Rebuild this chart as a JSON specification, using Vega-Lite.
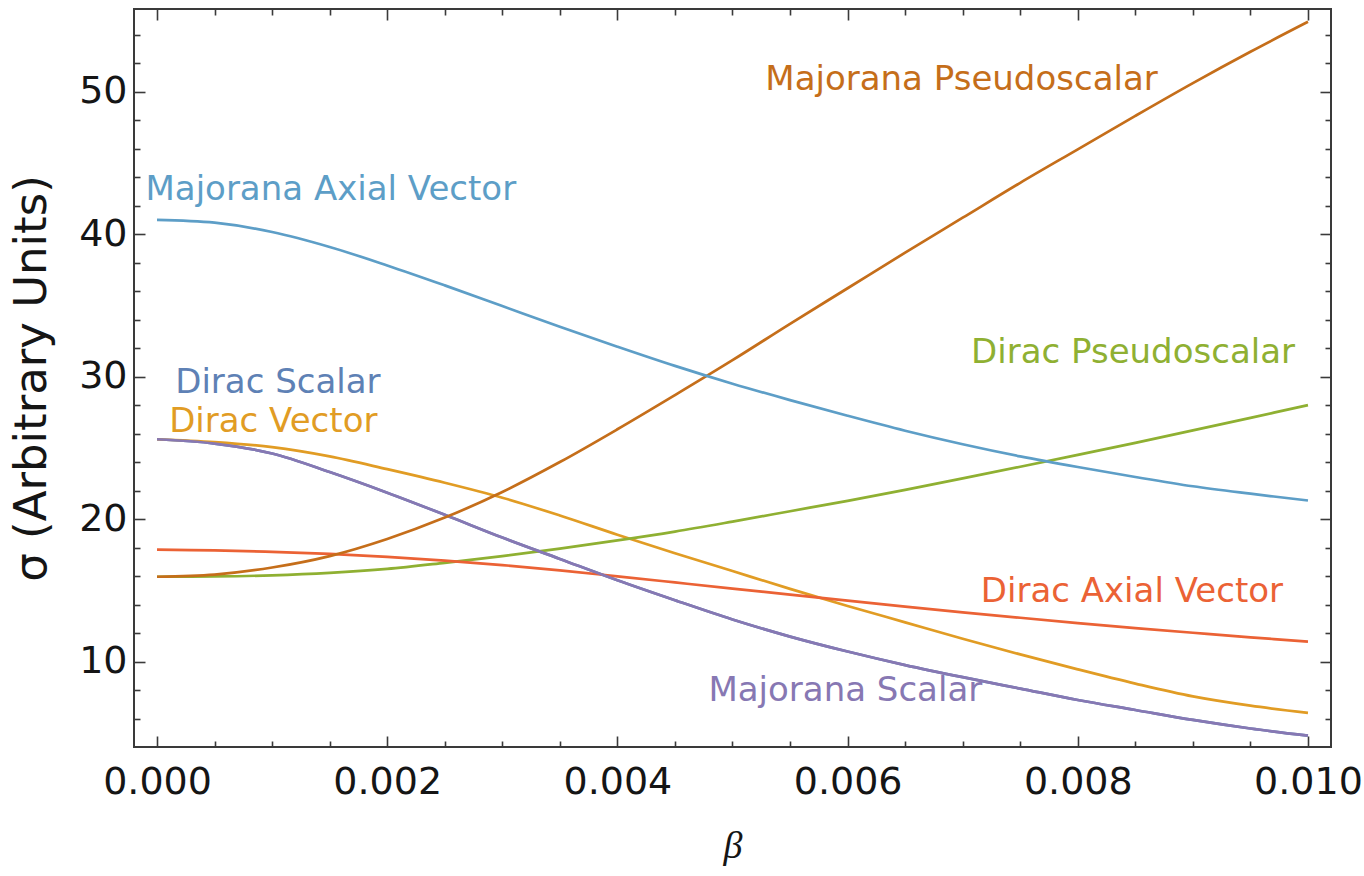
{
  "$schema": "https://vega.github.io/schema/vega-lite/v6.json",
  "width": 1197,
  "height": 738,
  "autosize": {"type": "none"},
  "padding": {"left": 134, "top": 9, "right": 33, "bottom": 129},
  "background": "white",
  "config": {
    "view": {"stroke": "#3a3a3a", "strokeWidth": 2},
    "axis": {"grid": false, "domain": false, "labelOverlap": false, "labelFlush": false, "labelBound": false}
  },
  "datasets": {
    "curves": [
      {"series": "Dirac Scalar", "beta": 0, "sigma": 25.6},
      {"series": "Dirac Scalar", "beta": 0.0005, "sigma": 25.3},
      {"series": "Dirac Scalar", "beta": 0.001, "sigma": 24.6},
      {"series": "Dirac Scalar", "beta": 0.0015, "sigma": 23.3},
      {"series": "Dirac Scalar", "beta": 0.002, "sigma": 21.85},
      {"series": "Dirac Scalar", "beta": 0.0025, "sigma": 20.3},
      {"series": "Dirac Scalar", "beta": 0.003, "sigma": 18.7},
      {"series": "Dirac Scalar", "beta": 0.0035, "sigma": 17.2},
      {"series": "Dirac Scalar", "beta": 0.004, "sigma": 15.7},
      {"series": "Dirac Scalar", "beta": 0.0045, "sigma": 14.3},
      {"series": "Dirac Scalar", "beta": 0.005, "sigma": 12.95},
      {"series": "Dirac Scalar", "beta": 0.0055, "sigma": 11.75},
      {"series": "Dirac Scalar", "beta": 0.006, "sigma": 10.7},
      {"series": "Dirac Scalar", "beta": 0.0065, "sigma": 9.75},
      {"series": "Dirac Scalar", "beta": 0.007, "sigma": 8.9},
      {"series": "Dirac Scalar", "beta": 0.0075, "sigma": 8.1},
      {"series": "Dirac Scalar", "beta": 0.008, "sigma": 7.3},
      {"series": "Dirac Scalar", "beta": 0.0085, "sigma": 6.6},
      {"series": "Dirac Scalar", "beta": 0.009, "sigma": 5.9},
      {"series": "Dirac Scalar", "beta": 0.0095, "sigma": 5.3},
      {"series": "Dirac Scalar", "beta": 0.01, "sigma": 4.8},

      {"series": "Dirac Vector", "beta": 0, "sigma": 25.6},
      {"series": "Dirac Vector", "beta": 0.0005, "sigma": 25.4},
      {"series": "Dirac Vector", "beta": 0.001, "sigma": 25.05},
      {"series": "Dirac Vector", "beta": 0.0015, "sigma": 24.4},
      {"series": "Dirac Vector", "beta": 0.002, "sigma": 23.5},
      {"series": "Dirac Vector", "beta": 0.0025, "sigma": 22.55},
      {"series": "Dirac Vector", "beta": 0.003, "sigma": 21.5},
      {"series": "Dirac Vector", "beta": 0.0035, "sigma": 20.25},
      {"series": "Dirac Vector", "beta": 0.004, "sigma": 18.9},
      {"series": "Dirac Vector", "beta": 0.0045, "sigma": 17.6},
      {"series": "Dirac Vector", "beta": 0.005, "sigma": 16.35},
      {"series": "Dirac Vector", "beta": 0.0055, "sigma": 15.1},
      {"series": "Dirac Vector", "beta": 0.006, "sigma": 13.9},
      {"series": "Dirac Vector", "beta": 0.0065, "sigma": 12.75},
      {"series": "Dirac Vector", "beta": 0.007, "sigma": 11.6},
      {"series": "Dirac Vector", "beta": 0.0075, "sigma": 10.5},
      {"series": "Dirac Vector", "beta": 0.008, "sigma": 9.45},
      {"series": "Dirac Vector", "beta": 0.0085, "sigma": 8.45},
      {"series": "Dirac Vector", "beta": 0.009, "sigma": 7.55},
      {"series": "Dirac Vector", "beta": 0.0095, "sigma": 6.9},
      {"series": "Dirac Vector", "beta": 0.01, "sigma": 6.4},

      {"series": "Dirac Pseudoscalar", "beta": 0, "sigma": 15.95},
      {"series": "Dirac Pseudoscalar", "beta": 0.0005, "sigma": 15.97},
      {"series": "Dirac Pseudoscalar", "beta": 0.001, "sigma": 16.05},
      {"series": "Dirac Pseudoscalar", "beta": 0.0015, "sigma": 16.22},
      {"series": "Dirac Pseudoscalar", "beta": 0.002, "sigma": 16.5},
      {"series": "Dirac Pseudoscalar", "beta": 0.0025, "sigma": 16.93},
      {"series": "Dirac Pseudoscalar", "beta": 0.003, "sigma": 17.4},
      {"series": "Dirac Pseudoscalar", "beta": 0.0035, "sigma": 17.93},
      {"series": "Dirac Pseudoscalar", "beta": 0.004, "sigma": 18.5},
      {"series": "Dirac Pseudoscalar", "beta": 0.0045, "sigma": 19.12},
      {"series": "Dirac Pseudoscalar", "beta": 0.005, "sigma": 19.82},
      {"series": "Dirac Pseudoscalar", "beta": 0.0055, "sigma": 20.55},
      {"series": "Dirac Pseudoscalar", "beta": 0.006, "sigma": 21.28},
      {"series": "Dirac Pseudoscalar", "beta": 0.0065, "sigma": 22.05},
      {"series": "Dirac Pseudoscalar", "beta": 0.007, "sigma": 22.85},
      {"series": "Dirac Pseudoscalar", "beta": 0.0075, "sigma": 23.67},
      {"series": "Dirac Pseudoscalar", "beta": 0.008, "sigma": 24.5},
      {"series": "Dirac Pseudoscalar", "beta": 0.0085, "sigma": 25.35},
      {"series": "Dirac Pseudoscalar", "beta": 0.009, "sigma": 26.22},
      {"series": "Dirac Pseudoscalar", "beta": 0.0095, "sigma": 27.1},
      {"series": "Dirac Pseudoscalar", "beta": 0.01, "sigma": 28.0},

      {"series": "Dirac Axial Vector", "beta": 0, "sigma": 17.85},
      {"series": "Dirac Axial Vector", "beta": 0.0005, "sigma": 17.8},
      {"series": "Dirac Axial Vector", "beta": 0.001, "sigma": 17.7},
      {"series": "Dirac Axial Vector", "beta": 0.0015, "sigma": 17.55},
      {"series": "Dirac Axial Vector", "beta": 0.002, "sigma": 17.35},
      {"series": "Dirac Axial Vector", "beta": 0.0025, "sigma": 17.08},
      {"series": "Dirac Axial Vector", "beta": 0.003, "sigma": 16.77},
      {"series": "Dirac Axial Vector", "beta": 0.0035, "sigma": 16.4},
      {"series": "Dirac Axial Vector", "beta": 0.004, "sigma": 15.98},
      {"series": "Dirac Axial Vector", "beta": 0.0045, "sigma": 15.55},
      {"series": "Dirac Axial Vector", "beta": 0.005, "sigma": 15.12},
      {"series": "Dirac Axial Vector", "beta": 0.0055, "sigma": 14.7},
      {"series": "Dirac Axial Vector", "beta": 0.006, "sigma": 14.27},
      {"series": "Dirac Axial Vector", "beta": 0.0065, "sigma": 13.85},
      {"series": "Dirac Axial Vector", "beta": 0.007, "sigma": 13.45},
      {"series": "Dirac Axial Vector", "beta": 0.0075, "sigma": 13.07},
      {"series": "Dirac Axial Vector", "beta": 0.008, "sigma": 12.7},
      {"series": "Dirac Axial Vector", "beta": 0.0085, "sigma": 12.35},
      {"series": "Dirac Axial Vector", "beta": 0.009, "sigma": 12.02},
      {"series": "Dirac Axial Vector", "beta": 0.0095, "sigma": 11.7},
      {"series": "Dirac Axial Vector", "beta": 0.01, "sigma": 11.4},

      {"series": "Majorana Scalar", "beta": 0, "sigma": 25.6},
      {"series": "Majorana Scalar", "beta": 0.0005, "sigma": 25.3},
      {"series": "Majorana Scalar", "beta": 0.001, "sigma": 24.6},
      {"series": "Majorana Scalar", "beta": 0.0015, "sigma": 23.3},
      {"series": "Majorana Scalar", "beta": 0.002, "sigma": 21.85},
      {"series": "Majorana Scalar", "beta": 0.0025, "sigma": 20.3},
      {"series": "Majorana Scalar", "beta": 0.003, "sigma": 18.7},
      {"series": "Majorana Scalar", "beta": 0.0035, "sigma": 17.2},
      {"series": "Majorana Scalar", "beta": 0.004, "sigma": 15.7},
      {"series": "Majorana Scalar", "beta": 0.0045, "sigma": 14.3},
      {"series": "Majorana Scalar", "beta": 0.005, "sigma": 12.95},
      {"series": "Majorana Scalar", "beta": 0.0055, "sigma": 11.75},
      {"series": "Majorana Scalar", "beta": 0.006, "sigma": 10.7},
      {"series": "Majorana Scalar", "beta": 0.0065, "sigma": 9.75},
      {"series": "Majorana Scalar", "beta": 0.007, "sigma": 8.9},
      {"series": "Majorana Scalar", "beta": 0.0075, "sigma": 8.1},
      {"series": "Majorana Scalar", "beta": 0.008, "sigma": 7.3},
      {"series": "Majorana Scalar", "beta": 0.0085, "sigma": 6.6},
      {"series": "Majorana Scalar", "beta": 0.009, "sigma": 5.9},
      {"series": "Majorana Scalar", "beta": 0.0095, "sigma": 5.3},
      {"series": "Majorana Scalar", "beta": 0.01, "sigma": 4.8},

      {"series": "Majorana Pseudoscalar", "beta": 0, "sigma": 15.95},
      {"series": "Majorana Pseudoscalar", "beta": 0.0005, "sigma": 16.1},
      {"series": "Majorana Pseudoscalar", "beta": 0.001, "sigma": 16.6},
      {"series": "Majorana Pseudoscalar", "beta": 0.0015, "sigma": 17.4},
      {"series": "Majorana Pseudoscalar", "beta": 0.002, "sigma": 18.6},
      {"series": "Majorana Pseudoscalar", "beta": 0.0025, "sigma": 20.1},
      {"series": "Majorana Pseudoscalar", "beta": 0.003, "sigma": 21.9},
      {"series": "Majorana Pseudoscalar", "beta": 0.0035, "sigma": 24.0},
      {"series": "Majorana Pseudoscalar", "beta": 0.004, "sigma": 26.3},
      {"series": "Majorana Pseudoscalar", "beta": 0.0045, "sigma": 28.7},
      {"series": "Majorana Pseudoscalar", "beta": 0.005, "sigma": 31.15},
      {"series": "Majorana Pseudoscalar", "beta": 0.0055, "sigma": 33.7},
      {"series": "Majorana Pseudoscalar", "beta": 0.006, "sigma": 36.2},
      {"series": "Majorana Pseudoscalar", "beta": 0.0065, "sigma": 38.7},
      {"series": "Majorana Pseudoscalar", "beta": 0.007, "sigma": 41.15},
      {"series": "Majorana Pseudoscalar", "beta": 0.0075, "sigma": 43.6},
      {"series": "Majorana Pseudoscalar", "beta": 0.008, "sigma": 45.95},
      {"series": "Majorana Pseudoscalar", "beta": 0.0085, "sigma": 48.3},
      {"series": "Majorana Pseudoscalar", "beta": 0.009, "sigma": 50.6},
      {"series": "Majorana Pseudoscalar", "beta": 0.0095, "sigma": 52.8},
      {"series": "Majorana Pseudoscalar", "beta": 0.01, "sigma": 54.9},

      {"series": "Majorana Axial Vector", "beta": 0, "sigma": 41.0},
      {"series": "Majorana Axial Vector", "beta": 0.0005, "sigma": 40.8},
      {"series": "Majorana Axial Vector", "beta": 0.001, "sigma": 40.15},
      {"series": "Majorana Axial Vector", "beta": 0.0015, "sigma": 39.1},
      {"series": "Majorana Axial Vector", "beta": 0.002, "sigma": 37.8},
      {"series": "Majorana Axial Vector", "beta": 0.0025, "sigma": 36.4},
      {"series": "Majorana Axial Vector", "beta": 0.003, "sigma": 34.95},
      {"series": "Majorana Axial Vector", "beta": 0.0035, "sigma": 33.5},
      {"series": "Majorana Axial Vector", "beta": 0.004, "sigma": 32.1},
      {"series": "Majorana Axial Vector", "beta": 0.0045, "sigma": 30.75},
      {"series": "Majorana Axial Vector", "beta": 0.005, "sigma": 29.5},
      {"series": "Majorana Axial Vector", "beta": 0.0055, "sigma": 28.35},
      {"series": "Majorana Axial Vector", "beta": 0.006, "sigma": 27.25},
      {"series": "Majorana Axial Vector", "beta": 0.0065, "sigma": 26.2},
      {"series": "Majorana Axial Vector", "beta": 0.007, "sigma": 25.25},
      {"series": "Majorana Axial Vector", "beta": 0.0075, "sigma": 24.4},
      {"series": "Majorana Axial Vector", "beta": 0.008, "sigma": 23.65},
      {"series": "Majorana Axial Vector", "beta": 0.0085, "sigma": 22.95},
      {"series": "Majorana Axial Vector", "beta": 0.009, "sigma": 22.3},
      {"series": "Majorana Axial Vector", "beta": 0.0095, "sigma": 21.78},
      {"series": "Majorana Axial Vector", "beta": 0.01, "sigma": 21.3}
    ],
    "labels": [
      {"series": "Majorana Pseudoscalar", "beta": 0.00699, "sigma": 50.8, "text": "Majorana Pseudoscalar"},
      {"series": "Majorana Axial Vector", "beta": 0.00151, "sigma": 43.1, "text": "Majorana Axial Vector"},
      {"series": "Dirac Scalar", "beta": 0.00105, "sigma": 29.55, "text": "Dirac Scalar"},
      {"series": "Dirac Vector", "beta": 0.00101, "sigma": 26.8, "text": "Dirac Vector"},
      {"series": "Dirac Pseudoscalar", "beta": 0.00848, "sigma": 31.65, "text": "Dirac Pseudoscalar"},
      {"series": "Dirac Axial Vector", "beta": 0.00847, "sigma": 14.9, "text": "Dirac Axial Vector"},
      {"series": "Majorana Scalar", "beta": 0.00598, "sigma": 7.95, "text": "Majorana Scalar"}
    ]
  },
  "layer": [
    {
      "data": {"name": "curves"},
      "mark": {"type": "line", "strokeWidth": 2.7, "interpolate": "catmull-rom"},
      "encoding": {
        "x": {
          "field": "beta", "type": "quantitative",
          "scale": {"domain": [-0.0002, 0.0102], "nice": false, "zero": false},
          "axis": {
            "orient": "bottom",
            "values": [0, 0.0005, 0.001, 0.0015, 0.002, 0.0025, 0.003, 0.0035, 0.004, 0.0045, 0.005, 0.0055, 0.006, 0.0065, 0.007, 0.0075, 0.008, 0.0085, 0.009, 0.0095, 0.01],
            "labelExpr": "round(datum.value*10000) % 20 == 0 ? format(datum.value, '.3f') : ''",
            "tickSize": {"condition": {"test": "round(datum.value*10000) % 20 == 0", "value": -11}, "value": -6},
            "tickColor": "#3a3a3a", "tickWidth": 1.6,
            "labelFont": "DejaVu Sans", "labelFontSize": 38, "labelColor": "#151515",
            "labelPadding": 27,
            "title": "β", "titleFont": "Liberation Serif", "titleFontStyle": "italic", "titleFontWeight": "normal",
            "titleFontSize": 38, "titleColor": "#151515", "titlePadding": 21
          }
        },
        "y": {
          "field": "sigma", "type": "quantitative",
          "scale": {"domain": [4.0, 55.8], "nice": false, "zero": false},
          "axis": {
            "orient": "left",
            "values": [6, 8, 10, 12, 14, 16, 18, 20, 22, 24, 26, 28, 30, 32, 34, 36, 38, 40, 42, 44, 46, 48, 50, 52, 54],
            "labelExpr": "datum.value % 10 == 0 ? format(datum.value, 'd') : ''",
            "tickSize": {"condition": {"test": "datum.value % 10 == 0", "value": -11}, "value": -6},
            "tickColor": "#3a3a3a", "tickWidth": 1.6,
            "labelFont": "DejaVu Sans", "labelFontSize": 38, "labelColor": "#151515",
            "labelPadding": 18,
            "title": "σ (Arbitrary Units)", "titleFont": "DejaVu Sans", "titleFontWeight": "normal",
            "titleFontSize": 45, "titleColor": "#151515", "titlePadding": 24
          }
        },
        "color": {
          "field": "series", "type": "nominal",
          "scale": {
            "domain": ["Dirac Scalar", "Dirac Vector", "Dirac Pseudoscalar", "Dirac Axial Vector", "Majorana Scalar", "Majorana Pseudoscalar", "Majorana Axial Vector"],
            "range": ["#5E81B5", "#E19C24", "#8FB032", "#EB6235", "#8778B3", "#C56E1A", "#5D9EC7"]
          },
          "legend": null
        }
      }
    },
    {
      "data": {"name": "labels"},
      "mark": {"type": "text", "font": "DejaVu Sans", "fontSize": 34, "align": "center", "baseline": "middle"},
      "encoding": {
        "x": {
          "field": "beta", "type": "quantitative",
          "scale": {"domain": [-0.0002, 0.0102], "nice": false, "zero": false},
          "axis": {
            "orient": "top", "labels": false, "title": null,
            "values": [0, 0.0005, 0.001, 0.0015, 0.002, 0.0025, 0.003, 0.0035, 0.004, 0.0045, 0.005, 0.0055, 0.006, 0.0065, 0.007, 0.0075, 0.008, 0.0085, 0.009, 0.0095, 0.01],
            "tickSize": {"condition": {"test": "round(datum.value*10000) % 20 == 0", "value": -11}, "value": -6},
            "tickColor": "#3a3a3a", "tickWidth": 1.6
          }
        },
        "y": {
          "field": "sigma", "type": "quantitative",
          "scale": {"domain": [4.0, 55.8], "nice": false, "zero": false},
          "axis": {
            "orient": "right", "labels": false, "title": null,
            "values": [6, 8, 10, 12, 14, 16, 18, 20, 22, 24, 26, 28, 30, 32, 34, 36, 38, 40, 42, 44, 46, 48, 50, 52, 54],
            "tickSize": {"condition": {"test": "datum.value % 10 == 0", "value": -11}, "value": -6},
            "tickColor": "#3a3a3a", "tickWidth": 1.6
          }
        },
        "text": {"field": "text", "type": "nominal"},
        "color": {"field": "series", "type": "nominal", "legend": null}
      }
    }
  ]
}
